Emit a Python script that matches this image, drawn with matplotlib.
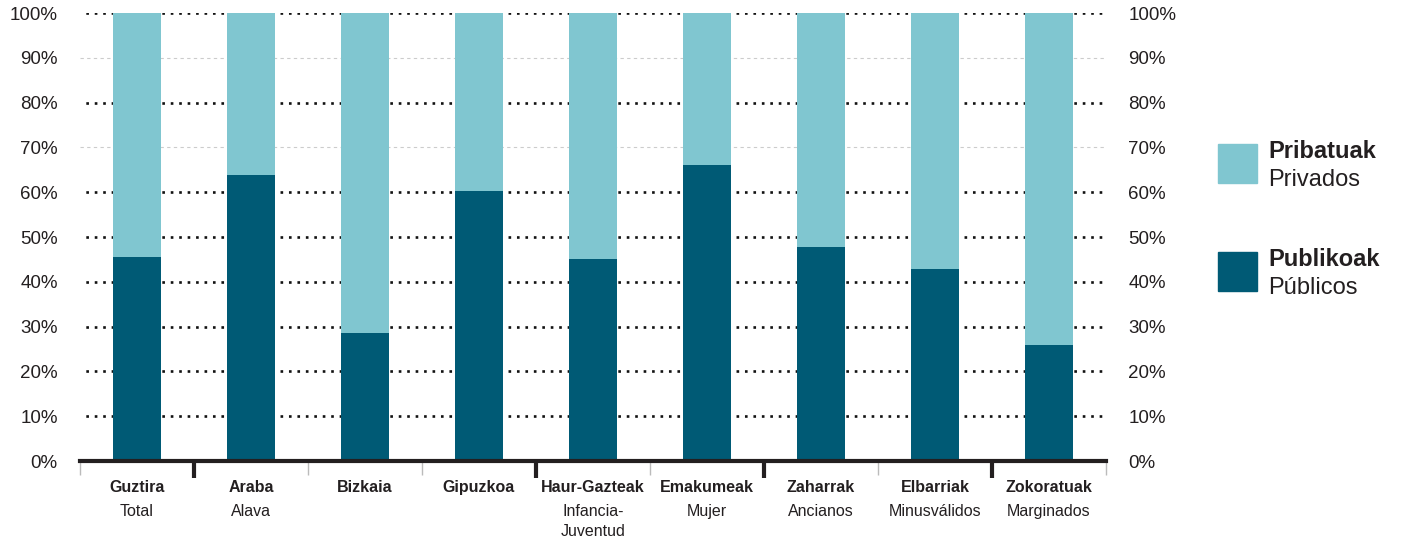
import matplotlib.pyplot as plt
from matplotlib.patches import Rectangle

plt.rcParams['font.family'] = ['Liberation Sans', 'DejaVu Sans']

# datos (porcentaje publico; privado = resto hasta 100)
categorias_eu = ["Guztira", "Araba", "Bizkaia", "Gipuzkoa", "Haur-Gazteak",
                 "Emakumeak", "Zaharrak", "Elbarriak", "Zokoratuak"]
categorias_es = ["Total", "Alava", "", "", "Infancia-\nJuventud",
                 "Mujer", "Ancianos", "Minusválidos", "Marginados"]
publikoak = [45.5, 63.8, 28.6, 60.3, 45.1, 66.1, 47.8, 42.9, 25.9]
pribatuak = [100 - v for v in publikoak]

c_pub = '#005A75'
c_pri = '#80C6D0'
c_txt = '#231F20'

fig = plt.figure(figsize=(14.08, 5.46), dpi=100)
ax = fig.add_axes([80 / 1408, 85 / 546, 1026 / 1408, 448 / 546])

x = list(range(len(categorias_eu)))
ax.bar(x, publikoak, width=0.42, color=c_pub, zorder=3)
ax.bar(x, pribatuak, width=0.42, bottom=publikoak, color=c_pri, zorder=3)

ax.set_xlim(-0.5, len(x) - 0.5)
ax.set_ylim(0, 100)

# lineas de referencia
for y in range(10, 101, 10):
    if y in (70, 90):
        ax.axhline(y, color='#cccccc', lw=0.8, ls=(0, (3, 3)), zorder=1)
    else:
        ax.axhline(y, color='#111111', lw=1.9, ls=(1, (1, 2.2)), zorder=1,
                   dash_capstyle='butt')

for s in ['top', 'left', 'right']:
    ax.spines[s].set_visible(False)
ax.spines['bottom'].set_linewidth(3)
ax.spines['bottom'].set_color(c_txt)
ax.spines['bottom'].set_zorder(4)

# marcas del eje x en los limites
limites = [i - 0.5 for i in range(len(x) + 1)]
ax.set_xticks(limites)
ax.set_xticklabels([''] * len(limites))
ax.tick_params(axis='x', length=10, width=1, color='#bbbbbb')
negras = [1, 4, 6, 8]
for i, t in enumerate(ax.xaxis.get_major_ticks()):
    if i in negras:
        t.tick1line.set_markeredgecolor(c_txt)
        t.tick1line.set_markeredgewidth(3)
        t.tick1line.set_markersize(12)

# etiquetas del eje y a ambos lados
ticks_y = list(range(0, 101, 10))
ax.set_yticks(ticks_y)
ax.set_yticklabels([f"{v}%" for v in ticks_y])
ax.tick_params(axis='y', length=0, labelsize=13.5, labelcolor=c_txt, pad=16,
               labelright=True)

# etiquetas de categoria (euskera en negrita, castellano normal)
for i in x:
    ax.annotate(categorias_eu[i], xy=(i, 0), xycoords=('data', 'axes fraction'),
                xytext=(0, -14), textcoords='offset points', ha='center', va='top',
                fontsize=11.5, fontweight='bold', color=c_txt)
    if categorias_es[i]:
        ax.annotate(categorias_es[i], xy=(i, 0), xycoords=('data', 'axes fraction'),
                    xytext=(0, -31), textcoords='offset points', ha='center', va='top',
                    fontsize=11.5, color=c_txt, linespacing=1.45)

# leyenda
W, H = 1408, 546
for y0, col, t1, t2 in [(144, c_pri, "Pribatuak", "Privados"),
                        (252, c_pub, "Publikoak", "Públicos")]:
    fig.patches.append(Rectangle((1218 / W, 1 - (y0 + 39) / H), 39 / W, 39 / H,
                                 transform=fig.transFigure, color=col))
    fig.text(1268 / W, 1 - (y0 + 7) / H, t1, fontsize=17, fontweight='bold',
             color=c_txt, va='center')
    fig.text(1268 / W, 1 - (y0 + 36) / H, t2, fontsize=17, color=c_txt, va='center')

fig.savefig('out.png', dpi=100)
